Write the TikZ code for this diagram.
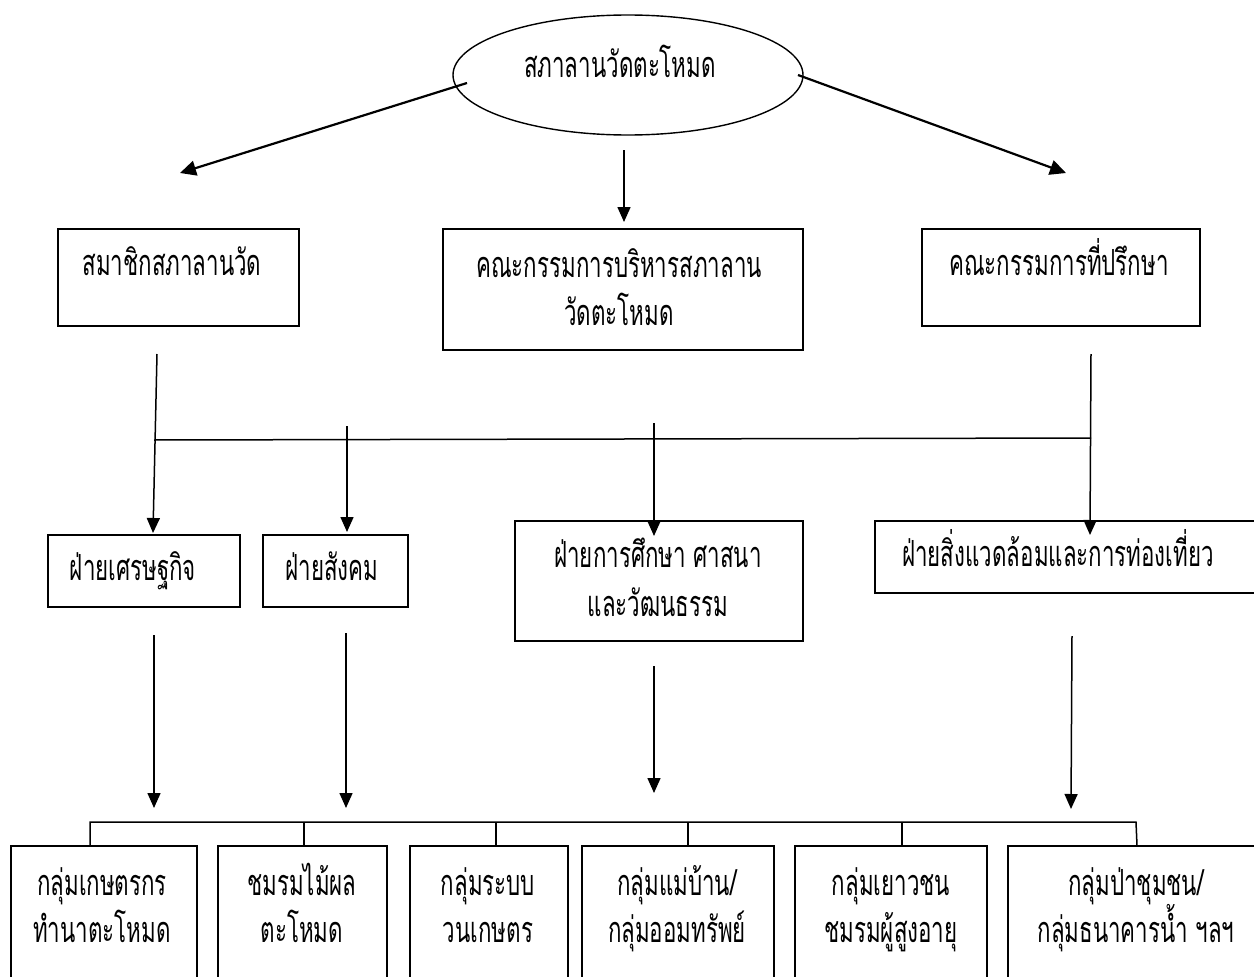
\documentclass[tikz,border=0pt]{standalone}
\usepackage{fontspec}
\newfontfamily\thai[Script=Thai,FakeStretch=0.62]{Loma}
\usetikzlibrary{shapes.geometric,arrows.meta}
\tikzset{
  box/.style={draw,line width=1.4pt,rectangle,inner sep=0pt},
  txt/.style={font=\thai\fontsize{36}{36}\selectfont,anchor=base,inner sep=0pt},
  arr/.style={line width=1.5pt,-{Triangle[length=15pt,width=13pt]}},
  bigarr/.style={line width=2.2pt,-{Triangle[length=16pt,width=15pt]}},
  ln/.style={line width=1.5pt}
}
\begin{document}
\begin{tikzpicture}[x=1pt,y=-1pt]
\useasboundingbox (0,0) rectangle (1254,977);
\clip (0,0) rectangle (1254,977);
% top ellipse
\node[draw,ellipse,line width=1.4pt,minimum width=350pt,minimum height=120pt,inner sep=0pt] (E) at (628,75) {};
\node[txt] (Et) at (620,77) {สภาลานวัดตะโหมด};
% level 2 boxes
\node[box,minimum width=241pt,minimum height=97pt] (B1) at (178.5,277.5) {};
\node[txt] (B1t) at (172,275) {สมาชิกสภาลานวัด};
\node[box,minimum width=360pt,minimum height=121pt] (B2) at (623,289.5) {};
\node[txt] (B2t) at (619,277) {คณะกรรมการบริหารสภาลาน};
\node[txt] (B2u) at (619,325) {วัดตะโหมด};
\node[box,minimum width=278pt,minimum height=97pt] (B3) at (1061,277.5) {};
\node[txt] (B3t) at (1059,275) {คณะกรรมการที่ปรึกษา};
% level 3 boxes
\node[box,minimum width=192pt,minimum height=72pt] (D1) at (144,571) {};
\node[txt] (D1t) at (133,580) {ฝ่ายเศรษฐกิจ};
\node[box,minimum width=145pt,minimum height=72pt] (D2) at (335.5,571) {};
\node[txt] (D2t) at (332,580) {ฝ่ายสังคม};
\node[box,minimum width=288pt,minimum height=120pt] (D3) at (659,581) {};
\node[txt] (D3t) at (658,567) {ฝ่ายการศึกษา ศาสนา};
\node[txt] (D3u) at (658,616) {และวัฒนธรรม};
\node[box,minimum width=395pt,minimum height=72pt] (D4) at (1072.5,557) {};
\node[txt] (D4t) at (1058,566) {ฝ่ายสิ่งแวดล้อมและการท่องเที่ยว};
% level 4 boxes
\node[box,minimum width=186pt,minimum height=144pt] (G1) at (104,918) {};
\node[txt] (G1t) at (102,895) {กลุ่มเกษตรกร};
\node[txt] (G1u) at (102,942) {ทำนาตะโหมด};
\node[box,minimum width=169pt,minimum height=144pt] (G2) at (302.5,918) {};
\node[txt] (G2t) at (302,895) {ชมรมไม้ผล};
\node[txt] (G2u) at (302,942) {ตะโหมด};
\node[box,minimum width=158pt,minimum height=144pt] (G3) at (489,918) {};
\node[txt] (G3t) at (488,895) {กลุ่มระบบ};
\node[txt] (G3u) at (488,942) {วนเกษตร};
\node[box,minimum width=192pt,minimum height=144pt] (G4) at (678,918) {};
\node[txt] (G4t) at (677,895) {กลุ่มแม่บ้าน/};
\node[txt] (G4u) at (677,942) {กลุ่มออมทรัพย์};
\node[box,minimum width=192pt,minimum height=144pt] (G5) at (891,918) {};
\node[txt] (G5t) at (891,895) {กลุ่มเยาวชน};
\node[txt] (G5u) at (891,942) {ชมรมผู้สูงอายุ};
\node[box,minimum width=256pt,minimum height=144pt] (G6) at (1136,918) {};
\node[txt] (G6t) at (1136,895) {กลุ่มป่าชุมชน/};
\node[txt] (G6u) at (1136,942) {กลุ่มธนาคารน้ำ ฯลฯ};
% coordinates for connectors
\coordinate (eL) at (467,83);
\coordinate (eLt) at (180,173);
\coordinate (eR) at (798,75);
\coordinate (eRt) at (1066,173);
\coordinate (eC) at (624,150);
\coordinate (eCt) at (624,222);
\coordinate (b1s) at (157,354);
\coordinate (b1t) at (153,533);
\coordinate (busL) at (154,440);
\coordinate (busR) at (1091,438);
\coordinate (b3s) at (1091,354);
\coordinate (b3t) at (1090,535);
\coordinate (s2) at (347,426);
\coordinate (s2t) at (347,532);
\coordinate (s3) at (654,423);
\coordinate (s3t) at (654,536);
\coordinate (l1) at (154,635);
\coordinate (l1t) at (154,808);
\coordinate (l2) at (346,633);
\coordinate (l2t) at (346,808);
\coordinate (l3) at (654,666);
\coordinate (l3t) at (654,793);
\coordinate (l4) at (1072,636);
\coordinate (l4t) at (1071,809);
% connectors
\draw[bigarr] (eL) -- (eLt);
\draw[bigarr] (eR) -- (eRt);
\draw[arr] (eC) -- (eCt);
\draw[arr] (b1s) -- (b1t);
\draw[arr] (b3s) -- (b3t);
\draw[ln] (busL) -- (busR);
\draw[arr] (s2) -- (s2t);
\draw[arr] (s3) -- (s3t);
\draw[arr] (l1) -- (l1t);
\draw[arr] (l2) -- (l2t);
\draw[arr] (l3) -- (l3t);
\draw[arr] (l4) -- (l4t);
% lower bus
\draw[ln] (G1.north -| 90,0) -- (90,822) -- (1136,822) -- (G6.north -| 1137,0);
\draw[ln] (304,822) -- (G2.north -| 304,0);
\draw[ln] (496,822) -- (G3.north -| 496,0);
\draw[ln] (688,822) -- (G4.north -| 688,0);
\draw[ln] (902,822) -- (G5.north -| 902,0);
\end{tikzpicture}
\end{document}
